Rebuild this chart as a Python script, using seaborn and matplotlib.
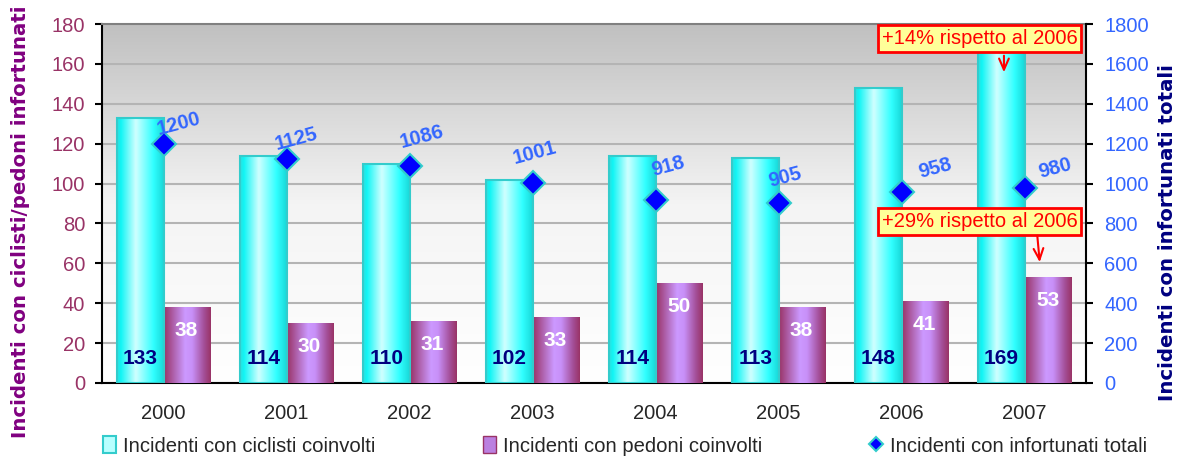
import matplotlib
matplotlib.use("Agg")
import matplotlib.pyplot as plt
import numpy as np
import pandas as pd
import seaborn as sns
from matplotlib.colors import LinearSegmentedColormap
from matplotlib.lines import Line2D
from matplotlib.patches import Patch

YEARS = ["2000", "2001", "2002", "2003", "2004", "2005", "2006", "2007"]
CICLISTI = [133, 114, 110, 102, 114, 113, 148, 169]
PEDONI = [38, 30, 31, 33, 50, 38, 41, 53]
TOTALI = [1200, 1125, 1086, 1001, 918, 905, 958, 980]

LBL_CICLISTI = "Incidenti con ciclisti coinvolti"
LBL_PEDONI = "Incidenti con pedoni coinvolti"
LBL_TOTALI = "Incidenti con infortunati totali"

# offsets (points) of the rotated labels next to the diamonds
LABEL_OFFSETS = [(11, 14), (7, 14), (9, 21), (2, 22), (9, 24), (5, 18), (24, 17), (22, 14)]

CYAN_CMAP = LinearSegmentedColormap.from_list(
    "cyan", [(0, "#2ee0e0"), (0.08, "#10f5f5"), (0.4, "#d0ffff"), (0.78, "#30ffff"), (1, "#18d8d8")])
PURPLE_CMAP = LinearSegmentedColormap.from_list(
    "purple", [(0, "#993366"), (0.25, "#b46cbc"), (0.45, "#cc99ff"), (0.6, "#c890f8"), (0.85, "#a4509a"), (1, "#993366")])
BG_CMAP = LinearSegmentedColormap.from_list("bg", ["#ffffff", "#f4f4f4", "#c0c0c0"])

df = pd.DataFrame({
    "anno": YEARS * 2,
    "tipo": [LBL_CICLISTI] * len(YEARS) + [LBL_PEDONI] * len(YEARS),
    "valore": CICLISTI + PEDONI,
})

sns.set_style("white")
plt.rcParams["font.family"] = ["Liberation Sans", "DejaVu Sans"]

fig = plt.figure(figsize=(11.8, 4.57), dpi=100)
ax = fig.add_axes([102 / 1180, 1 - 383 / 457, 984 / 1180, 359 / 457])

sns.barplot(data=df, x="anno", y="valore", hue="tipo", ax=ax,
            palette=["#00ffff", "#cc99ff"], width=0.75, gap=0, legend=False,
            saturation=1, errorbar=None, zorder=3)

grad = np.linspace(0, 1, 200).reshape(1, -1)
for container, cmap, edge in zip(ax.containers, [CYAN_CMAP, PURPLE_CMAP], ["#33cccc", "none"]):
    for bar in container:
        x0, w, h = bar.get_x(), bar.get_width(), bar.get_height()
        im = ax.imshow(grad, extent=[x0, x0 + w, 0, h], aspect="auto", cmap=cmap,
                       zorder=2.9, interpolation="bilinear")
        im.set_clip_path(bar)
        bar.set_facecolor("none")
        bar.set_edgecolor(edge)
        bar.set_linewidth(1.5)

# bar value labels
for bar, v in zip(ax.containers[0], CICLISTI):
    ax.text(bar.get_x() + bar.get_width() / 2, 12.5, str(v), ha="center", va="center",
            color="#000080", fontsize=15, fontweight="bold", zorder=5)
for bar, v in zip(ax.containers[1], PEDONI):
    ax.text(bar.get_x() + bar.get_width() / 2, v - 11.5, str(v), ha="center", va="center",
            color="white", fontsize=15, fontweight="bold", zorder=5)

# plot area background
bg = np.linspace(0, 1, 256).reshape(-1, 1)
ax.imshow(bg, extent=[0, 1, 0, 1], transform=ax.transAxes, aspect="auto",
          cmap=BG_CMAP, origin="lower", zorder=0)

ax.set_axisbelow(True)
ax.yaxis.grid(True, color="#b4b4b4", linewidth=1.5, zorder=1)
ax.set_ylim(0, 180)
ax.set_yticks(range(0, 181, 20))
ax.set_xlim(-0.5, 7.5)
ax.set_xticks(np.arange(-0.5, 8, 1))
ax.set_xticklabels([])
ax.set_xticks(range(len(YEARS)), minor=True)
ax.set_xticklabels(YEARS, minor=True, fontsize=14.5)
ax.tick_params(axis="x", which="major", direction="inout", length=12, width=1.5, color="black")
ax.tick_params(axis="x", which="minor", length=0, pad=15)
ax.tick_params(axis="y", direction="out", length=5, width=1.5, color="black", pad=7,
               labelsize=14.5, labelcolor="#993366", left=True)
ax.set_xlabel("")
ax.set_ylabel("Incidenti con ciclisti/pedoni infortunati", color="#800080",
              fontsize=14.2, fontweight="bold", family="DejaVu Sans")
ax.yaxis.set_label_coords(-0.073, 0.448)
for side in ["left", "bottom"]:
    ax.spines[side].set_color("black")
    ax.spines[side].set_linewidth(1.5)
ax.spines["top"].set_color("#808080")
ax.spines["top"].set_linewidth(1.5)
ax.spines["right"].set_visible(False)

# secondary axis with totals
ax2 = ax.twinx()
sns.pointplot(x=YEARS, y=TOTALI, ax=ax2, linestyle="none", markers="D",
              color="#0000ff", errorbar=None)
for line in ax2.lines:
    line.set_markersize(12)
    line.set_markeredgecolor("#33cccc")
    line.set_markeredgewidth(1.5)
    line.set_zorder(4)
for i, (v, off) in enumerate(zip(TOTALI, LABEL_OFFSETS)):
    ax2.annotate(str(v), (i, v), xytext=off, textcoords="offset points",
                 ha="center", va="center", rotation=15, color="#3366ff",
                 fontsize=14.5, fontweight="bold", zorder=5)
ax2.set_ylim(0, 1800)
ax2.set_yticks(range(0, 1801, 200))
ax2.tick_params(axis="y", direction="out", length=5, width=1.5, color="black", pad=8,
                labelsize=14.5, labelcolor="#3366ff", right=True)
ax2.set_ylabel(LBL_TOTALI, color="#000080", fontsize=14.2, fontweight="bold",
               family="DejaVu Sans")
ax2.yaxis.set_label_coords(1.073, 0.42)
for side in ["left", "top", "bottom"]:
    ax2.spines[side].set_visible(False)
ax2.spines["right"].set_color("black")
ax2.spines["right"].set_linewidth(1.5)
ax.set_xlim(-0.5, 7.5)

# callouts
box = dict(boxstyle="square,pad=0.18", facecolor="#ffff99", edgecolor="red", linewidth=2)
ax.text(6.638, 172.7, "+14% rispetto al 2006", ha="center", va="center", color="red",
        fontsize=14.5, bbox=box, zorder=6)
ax.text(6.638, 81, "+29% rispetto al 2006", ha="center", va="center", color="red",
        fontsize=14.5, bbox=box, zorder=6)
arrow = dict(arrowstyle="->,head_length=0.8,head_width=0.35", color="red", linewidth=1.5)
ax.annotate("", xy=(6.833, 154.4), xytext=(6.833, 165.5), arrowprops=arrow, zorder=6)
ax.annotate("", xy=(7.126, 59.2), xytext=(7.102, 75.2), arrowprops=arrow, zorder=6)

# legend
handles = [
    Patch(facecolor="#b8ffff", edgecolor="#33cccc", linewidth=1.5, label=LBL_CICLISTI),
    Patch(facecolor="#bb80e0", edgecolor="#993366", linewidth=1, label=LBL_PEDONI),
    Line2D([], [], linestyle="none", marker="D", markersize=7, markerfacecolor="#0000ff",
           markeredgecolor="#33cccc", markeredgewidth=1.5, label=LBL_TOTALI),
]
fig.legend(handles=handles, loc="center left", bbox_to_anchor=(103 / 1180, 1 - 446 / 457),
           ncol=3, frameon=False, fontsize=14.6, handlelength=0.64, handleheight=0.9,
           handletextpad=0.35, columnspacing=5.3, borderaxespad=0, borderpad=0)

fig.savefig("out.png", dpi=100)
